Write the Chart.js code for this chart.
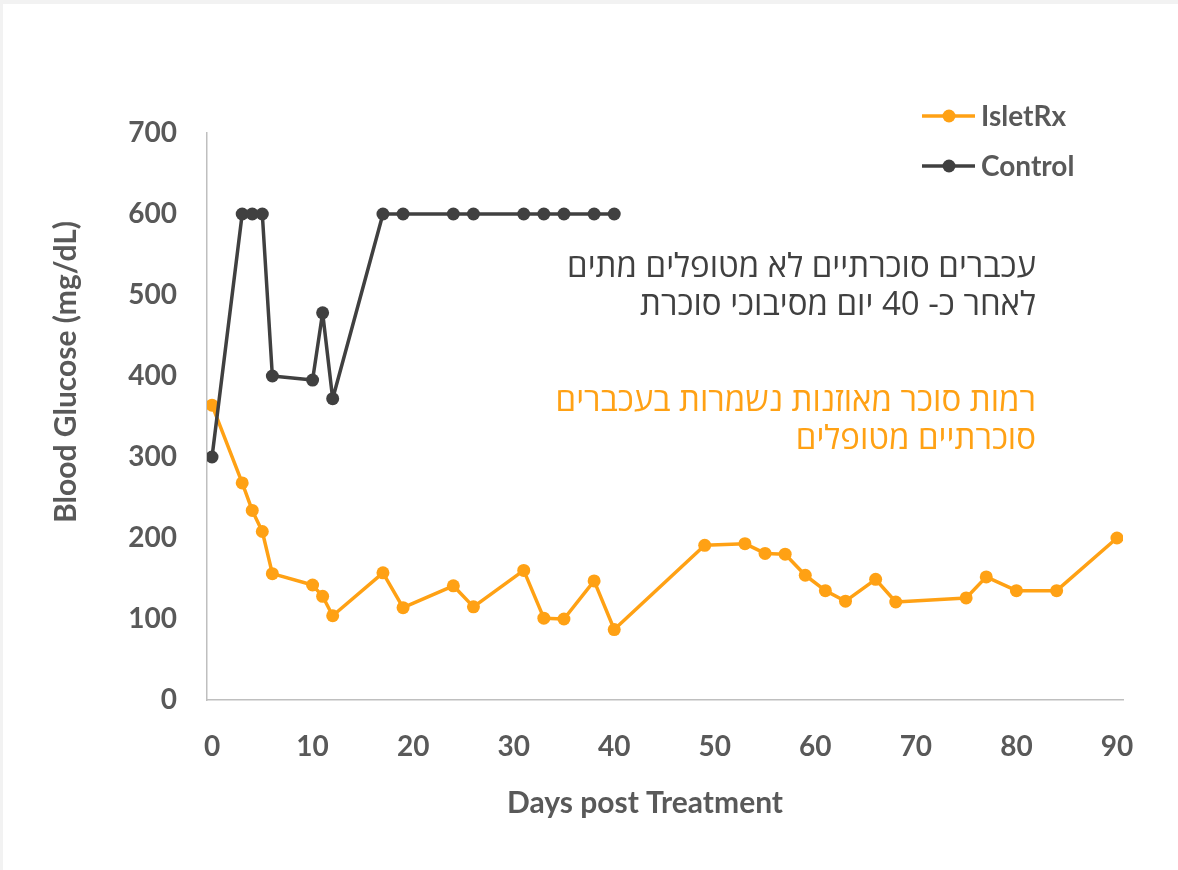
<!DOCTYPE html>
<html>
<head>
<meta charset="utf-8">
<title>Blood Glucose</title>
<script src="https://cdn.jsdelivr.net/npm/chart.js@4.4.1/dist/chart.umd.min.js"></script>
<style>
  html, body { margin: 0; padding: 0; background: #f2f2f2; }
  #wrap { position: absolute; left: 3px; top: 4px; width: 1175px; height: 866px; background: #fff; }
</style>
</head>
<body>
<div id="wrap"><canvas id="glucoseChart" width="1175" height="866"></canvas></div>
<script>
// days after treatment and blood glucose readings (mg/dL)
const isletDays = [0, 3, 4, 5, 6, 10, 11, 12, 17, 19, 24, 26, 31, 33, 35, 38, 40, 49, 53, 55, 57, 59, 61, 63, 66, 68, 75, 77, 80, 84, 90];
const isletGlucose = [364, 268, 234, 208, 156, 142, 128, 104, 157, 114, 141, 115, 160, 101, 100, 147, 87, 191, 193, 181, 180, 154, 135, 122, 149, 121, 126, 152, 135, 135, 200];
const controlDays = [0, 3, 4, 5, 6, 10, 11, 12, 17, 19, 24, 26, 31, 33, 35, 38, 40];
const controlGlucose = [300, 600, 600, 600, 400, 395, 478, 372, 600, 600, 600, 600, 600, 600, 600, 600, 600];

const seriesNames = ['IsletRx', 'Control'];
const noteControl = ['עכברים סוכרתיים לא מטופלים מתים', 'לאחר כ- 40 יום מסיבוכי סוכרת'];
const noteIslet = ['רמות סוכר מאוזנות נשמרות בעכברים', 'סוכרתיים מטופלים'];
const xTitle = 'Days post Treatment';
const yTitle = 'Blood Glucose (mg/dL)';

const ORANGE = '#ffa114';
const DARK = '#404040';
const LABEL = '#595959';
const latinFont = 'Lato, "Open Sans", sans-serif';
const hebrewFont = '"Open Sans", "DejaVu Sans", sans-serif';

function toPoints(xs, ys) {
    return xs.map((x, i) => ({ x: x, y: ys[i] }));
}

// legend, notes and axis titles drawn on top of the plot
const overlay = {
    id: 'overlay',
    afterDraw(chart) {
        const ctx = chart.ctx;
        ctx.save();

        // legend
        const rows = [112, 162];
        chart.data.datasets.slice().sort((a, b) => a.legendIndex - b.legendIndex).forEach((ds, i) => {
            const y = rows[i];
            ctx.strokeStyle = ds.borderColor;
            ctx.lineWidth = 3.5;
            ctx.beginPath();
            ctx.moveTo(919, y);
            ctx.lineTo(972, y);
            ctx.stroke();
            ctx.fillStyle = ds.borderColor;
            ctx.beginPath();
            ctx.arc(946, y, 6.5, 0, Math.PI * 2);
            ctx.fill();
            ctx.fillStyle = LABEL;
            ctx.font = 'bold 28px ' + latinFont;
            ctx.textAlign = 'left';
            ctx.textBaseline = 'middle';
            ctx.fillText(ds.label, 978, y + 1);
        });

        // notes
        ctx.direction = 'rtl';
        ctx.textAlign = 'right';
        ctx.textBaseline = 'middle';
        ctx.font = '33px ' + hebrewFont;
        ctx.fillStyle = DARK;
        ctx.fillText(noteControl[0], 1033, 264);
        ctx.fillText(noteControl[1], 1033, 302);
        ctx.fillStyle = ORANGE;
        ctx.fillText(noteIslet[0], 1033, 398);
        ctx.fillText(noteIslet[1], 1033, 436);
        ctx.direction = 'ltr';

        // axis titles
        ctx.fillStyle = LABEL;
        ctx.font = 'bold 30px ' + latinFont;
        ctx.textAlign = 'center';
        ctx.fillText(xTitle, 642, 799);
        ctx.translate(63, 368);
        ctx.rotate(-Math.PI / 2);
        ctx.fillText(yTitle, 0, 0);

        ctx.restore();
    }
};

const ctxGlucose = document.getElementById('glucoseChart').getContext('2d');
new Chart(ctxGlucose, {
    type: 'scatter',
    data: {
        datasets: [{
            label: seriesNames[0],
            legendIndex: 0,
            data: toPoints(isletDays, isletGlucose),
            showLine: true,
            borderColor: ORANGE,
            backgroundColor: ORANGE,
            borderWidth: 3.5,
            borderJoinStyle: 'round',
            pointRadius: 6.5,
            pointBorderWidth: 0,
            order: 2
        }, {
            label: seriesNames[1],
            legendIndex: 1,
            data: toPoints(controlDays, controlGlucose),
            showLine: true,
            borderColor: DARK,
            backgroundColor: DARK,
            borderWidth: 3.5,
            borderJoinStyle: 'round',
            pointRadius: 6.5,
            pointBorderWidth: 0,
            order: 1
        }]
    },
    options: {
        responsive: false,
        animation: false,
        layout: { padding: { top: 129, right: 55, left: 0, bottom: 0 } },
        plugins: {
            legend: { display: false },
            tooltip: { enabled: false }
        },
        scales: {
            x: {
                type: 'linear',
                min: -0.5,
                max: 90.6,
                afterFit(scale) { scale.height = 170; },
                grid: { display: false, drawTicks: false },
                border: { display: true, color: '#bfbfbf', width: 1.5 },
                ticks: {
                    stepSize: 10,
                    includeBounds: false,
                    padding: 30,
                    color: LABEL,
                    font: { family: latinFont, size: 28, weight: 'bold' }
                }
            },
            y: {
                min: 0,
                max: 700,
                afterFit(scale) { scale.width = 204; },
                grid: { display: false, drawTicks: false },
                border: { display: true, color: '#bfbfbf', width: 1.5 },
                ticks: {
                    stepSize: 100,
                    padding: 30,
                    color: LABEL,
                    font: { family: latinFont, size: 28, weight: 'bold' }
                }
            }
        }
    },
    plugins: [overlay]
});
</script>
</body>
</html>
